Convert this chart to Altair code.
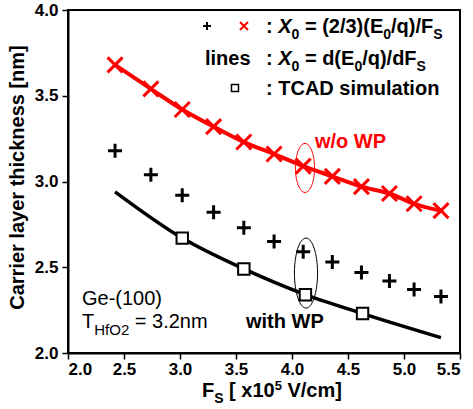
import altair as alt
import pandas as pd

# ---------------- data ----------------
fs_points = [2.42, 2.74, 3.02, 3.30, 3.57, 3.84, 4.10, 4.36, 4.62, 4.87, 5.09, 5.33]
x0_wo_wp = [3.68, 3.54, 3.42, 3.32, 3.23, 3.16, 3.09, 3.03, 2.97, 2.93, 2.87, 2.83]
x0_with_wp = [3.18, 3.04, 2.92, 2.82, 2.73, 2.65, 2.59, 2.53, 2.47, 2.42, 2.37, 2.33]
tcad_fs = [3.02, 3.57, 4.12, 4.63]
tcad_x0 = [2.67, 2.49, 2.34, 2.23]
deriv_fs = [2.42, 3.02, 3.57, 4.12, 4.63, 5.33]
deriv_x0 = [2.94, 2.67, 2.49, 2.34, 2.23, 2.09]
x_ticks = [2.0, 2.5, 3.0, 3.5, 4.0, 4.5, 5.0, 5.5]
y_ticks = [2.0, 2.5, 3.0, 3.5, 4.0]

XMIN, XMAX, YMIN, YMAX = 2.0, 5.5, 2.0, 4.0
W, H = 392, 343
PXX = W / (XMAX - XMIN)
PXY = H / (YMAX - YMIN)
FONT = "Liberation Sans"

# Arial / Liberation Sans advance widths (1/1000 em)
BOLD = {' ': 278, ':': 333, '=': 584, '(': 333, ')': 333, '/': 278, '0': 556, '1': 556,
        '2': 556, '3': 556, '5': 556, '.': 278, 'E': 667, 'q': 611, 'F': 611, 'S': 667,
        'X': 667, 'd': 611, '[': 333, ']': 333, 'x': 556, 'V': 667, 'c': 556, 'm': 889,
        'l': 278, 'i': 278, 'n': 611, 'e': 556, 's': 556, 'T': 611, 'C': 722, 'A': 722,
        'D': 722, 'u': 611, 'a': 556, 't': 333, 'o': 611}
REG = {' ': 278, 'T': 611, 'H': 722, 'f': 278, 'O': 778, '2': 556, '=': 584, '3': 556,
       '.': 278, 'n': 556, 'm': 833}


def width(s, size, style):
    tab = REG if style == 'r' else BOLD
    return sum(tab.get(c, 556) for c in s) / 1000.0 * size


def segments(x0, y0, parts):
    """parts: (text, style, fontsize, dy_px, color); laid out left to right.
    Leading spaces are turned into an offset (SVG collapses them)."""
    rows = []
    x = x0
    for text, style, fs, dy, color in parts:
        lead = len(text) - len(text.lstrip(' '))
        x += width(' ' * lead, fs, style) / PXX
        body = text.lstrip(' ')
        rows.append(dict(x=x, y=y0 - dy / PXY, text=body, size=fs, color=color, style=style))
        x += width(body, fs, style) / PXX
    return rows


K, R = "black", "red"
rows = []
# legend line 1
rows += segments(3.768, 3.866, [(":", 'b', 20, 0, K), (" X", 'bi', 20, 0, K), ("0", 'b', 14, 6, K),
                                (" = (2/3)(E", 'b', 20, 0, K), ("0", 'b', 14, 6, K),
                                ("/q)/F", 'b', 20, 0, K), ("S", 'b', 14, 6, K)])
# legend line 2
rows += segments(3.223, 3.679, [("lines", 'b', 20, 0, K)])
rows += segments(3.768, 3.679, [(":", 'b', 20, 0, K), (" X", 'bi', 20, 0, K), ("0", 'b', 14, 6, K),
                                (" = d(E", 'b', 20, 0, K), ("0", 'b', 14, 6, K),
                                ("/q)/dF", 'b', 20, 0, K), ("S", 'b', 14, 6, K)])
# legend line 3
rows += segments(3.768, 3.504, [(": TCAD simulation", 'b', 20, 0, K)])
# curve labels
rows += segments(4.205, 3.195, [("w/o WP", 'b', 20, 0, R)])
rows += segments(3.589, 2.146, [("with WP", 'b', 20, 0, K)])
# sample description
rows += segments(2.125, 2.280, [("Ge-(100)", 'r', 20, 0, K)])
rows += segments(2.125, 2.146, [("T", 'r', 20, 0, K), ("HfO2", 'r', 15, 7, K), (" = 3.2nm", 'r', 20, 0, K)])
# x-axis title
rows += segments(3.196, 1.743, [("F", 'b', 20, 0, K), ("S", 'b', 14, 6, K), (" [ x10", 'b', 20, 0, K),
                                ("5", 'b', 13, -7, K), (" V/cm]", 'b', 20, 0, K)])
texts = pd.DataFrame(rows)

xs = alt.Scale(domain=[XMIN, XMAX], nice=False, zero=False)
ys = alt.Scale(domain=[YMIN, YMAX], nice=False, zero=False)
x_axis = alt.Axis(values=x_ticks, format=".1f", title=None, labelPadding=2)
y_axis = alt.Axis(values=y_ticks, format=".1f", title="Carrier layer thickness [nm]",
                  labelPadding=4, titleFont=FONT, titleFontSize=20, titleFontWeight="bold",
                  titleAngle=270, titleX=-45, titleY=167, titleAlign="center",
                  titleBaseline="alphabetic", titleColor="black")


def X():
    return alt.X("x:Q", scale=xs, axis=x_axis)


def Y():
    return alt.Y("y:Q", scale=ys, axis=y_axis)


red_df = pd.DataFrame({"x": fs_points, "y": x0_wo_wp})
plus_df = pd.DataFrame({"x": fs_points, "y": x0_with_wp})
tcad_df = pd.DataFrame({"x": tcad_fs, "y": tcad_x0})
deriv_df = pd.DataFrame({"x": deriv_fs, "y": deriv_x0})

PLUS = "M -1 0 L 1 0 M 0 -1 L 0 1"
CROSS = "M -1 -1 L 1 1 M -1 1 L 1 -1"

red_line = alt.Chart(red_df).mark_line(color="red", strokeWidth=4, interpolate="monotone").encode(x=X(), y=Y())
black_line = alt.Chart(deriv_df).mark_line(color="black", strokeWidth=3.5, interpolate="monotone").encode(x=X(), y=Y())
red_x = alt.Chart(red_df).mark_point(shape=CROSS, size=225, color="red", strokeWidth=3, opacity=1).encode(x=X(), y=Y())
plus = alt.Chart(plus_df).mark_point(shape=PLUS, size=196, color="black", strokeWidth=3, opacity=1).encode(x=X(), y=Y())
squares = alt.Chart(tcad_df).mark_point(shape="square", size=130, filled=True, fill="white", stroke="black",
                                        strokeWidth=2, opacity=1).encode(x=X(), y=Y())

# ellipses highlighting the 4.1 points
ell_red = alt.Chart(pd.DataFrame({"x": [4.116], "y": [3.079]})).mark_point(
    shape="M -0.39 0 A 0.39 1 0 1 0 0.39 0 A 0.39 1 0 1 0 -0.39 0 Z", size=2401, filled=False,
    color="red", strokeWidth=1, opacity=1).encode(x=X(), y=Y())
ell_black = alt.Chart(pd.DataFrame({"x": [4.125], "y": [2.466]})).mark_point(
    shape="M -0.33 0 A 0.33 1 0 1 0 0.33 0 A 0.33 1 0 1 0 -0.33 0 Z", size=4900, filled=False,
    color="black", strokeWidth=1, opacity=1).encode(x=X(), y=Y())

# legend symbols
leg_plus = alt.Chart(pd.DataFrame({"x": [3.241], "y": [3.907]})).mark_point(
    shape=PLUS, size=64, color="black", strokeWidth=2, opacity=1).encode(x=X(), y=Y())
leg_x = alt.Chart(pd.DataFrame({"x": [3.571], "y": [3.907]})).mark_point(
    shape=CROSS, size=64, color="red", strokeWidth=2, opacity=1).encode(x=X(), y=Y())
leg_sq = alt.Chart(pd.DataFrame({"x": [3.491], "y": [3.545]})).mark_point(
    shape="square", size=49, filled=True, fill="white", stroke="black", strokeWidth=1.5,
    opacity=1).encode(x=X(), y=Y())


def text_layer(style, weight, fstyle):
    return alt.Chart(texts[texts["style"] == style]).mark_text(
        font=FONT, fontWeight=weight, fontStyle=fstyle, align="left", baseline="alphabetic"
    ).encode(x=X(), y=Y(), text="text:N",
             size=alt.Size("size:Q", scale=None),
             color=alt.Color("color:N", scale=None))


t_b = text_layer('b', "bold", "normal")
t_bi = text_layer('bi', "bold", "italic")
t_r = text_layer('r', "normal", "normal")

chart = alt.layer(
    red_line, black_line, ell_red, ell_black, red_x, plus, squares,
    leg_plus, leg_x, leg_sq, t_b, t_bi, t_r
).properties(
    width=W, height=H,
    autosize=alt.AutoSizeParams(type="none"),
    padding={"left": 68, "top": 10, "right": 13, "bottom": 56},
    background="white",
).configure_view(
    stroke="black", strokeWidth=2
).configure_axis(
    grid=False, domainColor="black", domainWidth=2, tickColor="black", tickWidth=1.5,
    tickSize=6, labelFont=FONT, labelFontSize=17, labelFontWeight="bold", labelColor="black"
)

chart.save("out.html", embed_options={"renderer": "svg", "actions": False})
